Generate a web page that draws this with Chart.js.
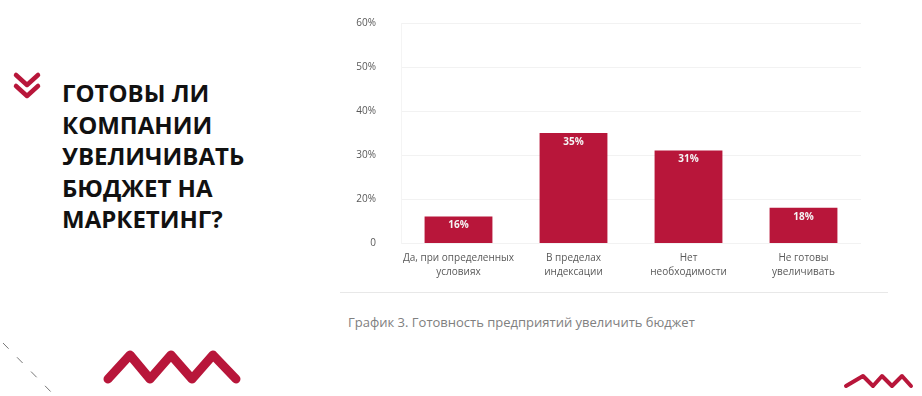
<!DOCTYPE html>
<html lang="ru">
<head>
<meta charset="utf-8">
<script src="https://cdn.jsdelivr.net/npm/chart.js@4"></script>
<style>
  html, body { margin: 0; padding: 0; background: #fff; }
  body { width: 922px; height: 396px; position: relative; overflow: hidden; font-family: "Open Sans", sans-serif; }
  #title {
    position: absolute; left: 62px; top: 77px;
    font-weight: 700; font-size: 24px; line-height: 31.5px; color: #111;
  }
  #chartBox { position: absolute; left: 340px; top: -8px; width: 540px; height: 298px; }
  #sep { position: absolute; left: 340px; top: 292px; width: 548px; height: 1px; background: #e8e8e8; }
  #caption { position: absolute; left: 348px; top: 313px; font-size: 13px; color: #808080; }
  svg { position: absolute; left: 0; top: 0; }
</style>
</head>
<body>
<svg width="922" height="396">
  <!-- двойная стрелка -->
  <polyline points="16,75 27,85 38,75" fill="none" stroke="#b8163a" stroke-width="4.5" stroke-linecap="round" stroke-linejoin="round"/>
  <polyline points="16,86 27,96 38,86" fill="none" stroke="#b8163a" stroke-width="4.5" stroke-linecap="round" stroke-linejoin="round"/>
  <!-- волна снизу -->
  <polyline points="108,379 130,355 150,379 171,355 192,379 213,355 236,379" fill="none" stroke="#b8163a" stroke-width="9" stroke-linecap="round" stroke-linejoin="round"/>
  <polyline points="846,386 863,376 873,386 882,376 892,386 902,376 911,386" fill="none" stroke="#b8163a" stroke-width="4" stroke-linecap="round" stroke-linejoin="round"/>
  <line x1="3" y1="343" x2="55" y2="396" stroke="#777" stroke-width="1" stroke-dasharray="8,12"/>
</svg>

<div id="title">ГОТОВЫ ЛИ<br>КОМПАНИИ<br>УВЕЛИЧИВАТЬ<br>БЮДЖЕТ НА<br>МАРКЕТИНГ?</div>

<div id="chartBox"><canvas id="budgetCanvas"></canvas></div>
<div id="sep"></div>
<div id="caption">График 3. Готовность предприятий увеличить бюджет</div>

<script>
const categories = [
  ['Да, при определенных', 'условиях'],
  ['В пределах', 'индексации'],
  ['Нет', 'необходимости'],
  ['Не готовы', 'увеличивать']
];
const readiness = [16, 35, 31, 18];
const yTickLabels = ['0', '20%', '30%', '40%', '50%', '60%'];
const axisMin = 10;
const axisMax = 60;

// подписи значений внутри столбцов
const barLabels = {
  id: 'barLabels',
  afterDatasetsDraw(chart) {
    const ctx = chart.ctx;
    const meta = chart.getDatasetMeta(0);
    ctx.save();
    ctx.fillStyle = '#f4f4f4';
    ctx.font = 'bold 10px "Open Sans"';
    ctx.textAlign = 'center';
    ctx.textBaseline = 'middle';
    meta.data.forEach((bar, i) => {
      ctx.fillText(readiness[i] + '%', bar.x, bar.y + 9);
    });
    ctx.restore();
  }
};

const ctxBudget = document.getElementById('budgetCanvas').getContext('2d');
new Chart(ctxBudget, {
  type: 'bar',
  data: {
    labels: categories,
    datasets: [{
      data: readiness,
      backgroundColor: '#b8163a',
      categoryPercentage: 1,
      barPercentage: 0.59
    }]
  },
  options: {
    responsive: true,
    maintainAspectRatio: false,
    animation: false,
    layout: { padding: { top: 0, right: 19, left: 0, bottom: 0 } },
    plugins: {
      legend: { display: false },
      tooltip: { enabled: false }
    },
    scales: {
      x: {
        grid: { display: false, drawTicks: false },
        border: { display: false },
        ticks: {
          color: '#595959',
          font: { family: 'Open Sans', size: 10, lineHeight: 1.4 },
          padding: 8,
          maxRotation: 0
        },
        afterFit(scale) { scale.height = 47; }
      },
      y: {
        min: axisMin,
        max: axisMax,
        grid: { color: '#f2f2f2', drawTicks: false },
        border: { color: '#f4f4f4' },
        ticks: {
          stepSize: 10,
          color: '#595959',
          font: { family: 'Open Sans', size: 10 },
          padding: 25,
          callback: (v, i) => yTickLabels[i]
        },
        afterFit(scale) { scale.width = 61; }
      }
    }
  },
  plugins: [barLabels]
});
</script>
</body>
</html>
